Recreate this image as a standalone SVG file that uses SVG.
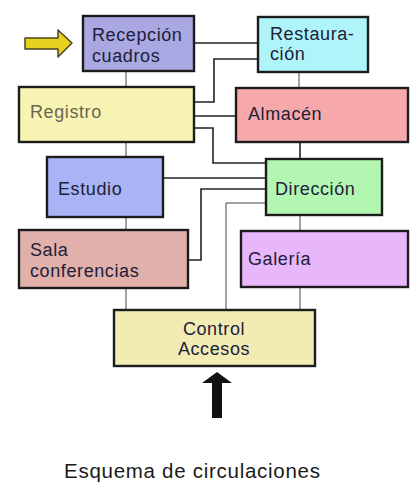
<svg xmlns="http://www.w3.org/2000/svg" width="414" height="494" viewBox="0 0 414 494">
<style>
.box{stroke:#1c1c1c;stroke-width:2.4}
.t{font-family:"Liberation Sans",Arial,sans-serif;font-size:18px;letter-spacing:0.6px;fill:#202038}
.c{fill:none;stroke:#222;stroke-width:1.6}
.v{fill:none;stroke:#444;stroke-width:1}
</style>
<rect width="414" height="494" fill="#ffffff"/>
<g id="connectors">
<path class="c" d="M194,43 H258"/>
<path class="c" d="M258,59 H214 V102 H194"/>
<path class="c" d="M194,116 H236"/>
<path class="c" d="M194,128 H213 V163 H266"/>
<path class="c" d="M163,178 H266"/>
<path class="c" d="M188,260 H201 V189 H266"/>
<path class="v" d="M266,203 H226 V310"/>
<path class="v" d="M126,71 V87"/>
<path class="v" d="M126,142 V157"/>
<path class="v" d="M126,217 V230"/>
<path class="v" d="M126,288 V310"/>
<path class="v" d="M299,72 V88"/>
<path class="c" d="M300,142 V159"/>
<path class="v" d="M300,215 V231"/>
<path class="v" d="M300,287 V310"/>
</g>
<g id="arrow-in">
<path d="M25,38 H58 V30 L72,43 L58,57 V49 H25 Z" fill="#e6d21e" stroke="#4a4420" stroke-width="1.5" stroke-linejoin="round"/>
</g>
<g id="recepcion">
<rect class="box" x="83" y="16" width="111" height="55" fill="#a9a8e2"/>
<text class="t" x="92" y="41">Recepción</text>
<text class="t" x="92" y="62">cuadros</text>
</g>
<g id="restauracion">
<rect class="box" x="258" y="17" width="110" height="55" fill="#aef4f8"/>
<text class="t" x="270" y="40">Restaura-</text>
<text class="t" x="270" y="60">ción</text>
</g>
<g id="registro">
<rect class="box" x="19" y="87" width="175" height="55" fill="#f8f4b4"/>
<text class="t" x="30" y="118" style="fill:#6a6650">Registro</text>
</g>
<g id="almacen">
<rect class="box" x="236" y="88" width="172" height="54" fill="#f6a8aa"/>
<text class="t" x="248" y="120">Almacén</text>
</g>
<g id="estudio">
<rect class="box" x="47" y="157" width="116" height="60" fill="#a9b4f6"/>
<text class="t" x="58" y="195">Estudio</text>
</g>
<g id="direccion">
<rect class="box" x="266" y="159" width="116" height="56" fill="#b2f6b2"/>
<text class="t" x="275" y="195">Dirección</text>
</g>
<g id="sala">
<rect class="box" x="19" y="230" width="169" height="58" fill="#e2b0aa"/>
<text class="t" x="30" y="256">Sala</text>
<text class="t" x="30" y="277">conferencias</text>
</g>
<g id="galeria">
<rect class="box" x="241" y="231" width="167" height="56" fill="#e8b6fa"/>
<text class="t" x="248" y="265">Galería</text>
</g>
<g id="control">
<rect class="box" x="114" y="310" width="201" height="56" fill="#f2ecb4"/>
<text class="t" x="214" y="335" text-anchor="middle">Control</text>
<text class="t" x="214" y="355" text-anchor="middle">Accesos</text>
</g>
<g id="arrow-up">
<path d="M212,418 V383 H202 L217,372 L232,383 H222 V418 Z" fill="#111"/>
</g>
<text x="64" y="478" textLength="256" lengthAdjust="spacing" style="font-family:'Liberation Sans',Arial,sans-serif;font-size:20.5px;fill:#1a1a1a">Esquema de circulaciones</text>
</svg>
